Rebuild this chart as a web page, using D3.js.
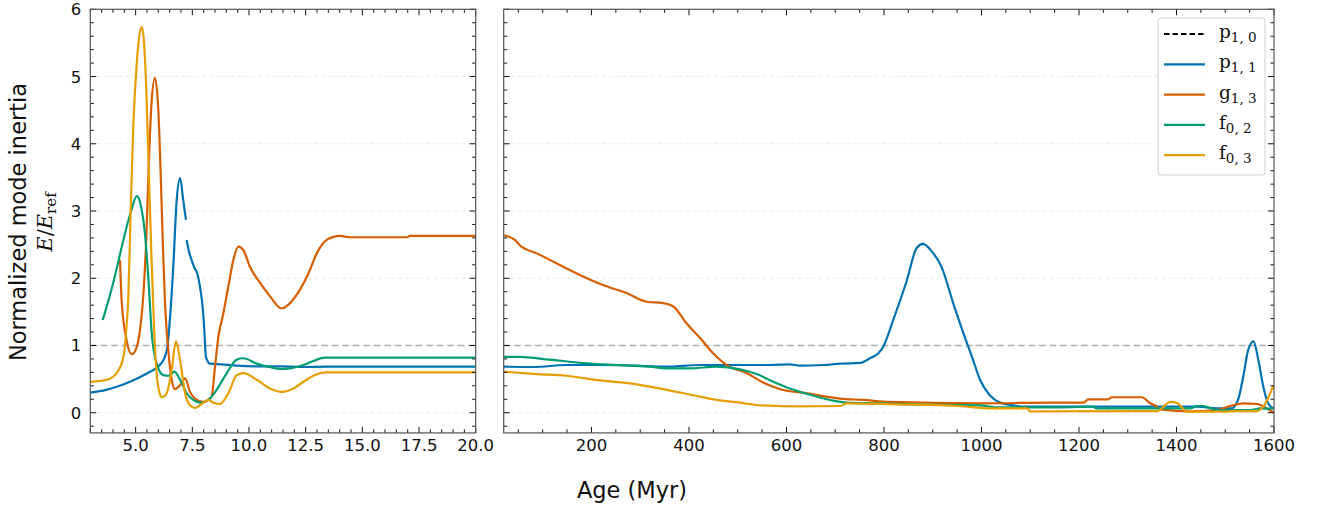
<!DOCTYPE html>
<html><head><meta charset="utf-8">
<script src="https://cdn.jsdelivr.net/npm/d3@7"></script>
<style>body{margin:0;background:#fff}svg{display:block}</style>
</head><body>
<svg id="chart" width="1319" height="508"></svg>
<script>
// ---------- DATA ----------
const seriesNames = ["p10", "p11", "g13", "f02", "f03"];
const seriesColors = {p10:"#000000", p11:"#0173b2", g13:"#d55e00", f02:"#029e73", f03:"#e69f00"};
const yTicks = [0,1,2,3,4,5,6];
const xTicksLeft = [5,7.5,10,12.5,15,17.5,20];
const xTicksRight = [200,400,600,800,1000,1200,1400,1600];

// left panel (age 3-20 Myr)
const p11Left = [[3.0,0.30],[3.7,0.34],[4.3,0.40],[4.75,0.46],[5.2,0.53],[5.63,0.61],[6.07,0.71],[6.25,0.80],[6.4,0.98],[6.52,1.43],[6.66,2.17],[6.81,3.16],[6.96,3.49],[7.1,3.16],[7.22,2.87],[7.235,null],[7.25,2.57],[7.35,2.40],[7.47,2.27],[7.6,2.15],[7.69,2.10],[7.84,1.87],[7.98,1.48],[8.05,1.10],[8.1,0.83],[8.28,0.73],[8.8,0.72],[9.46,0.70],[10.5,0.69],[11.5,0.69],[12.25,0.68],[13.5,0.685],[20,0.685]];
const g13Left = [[4.31,2.27],[4.38,1.68],[4.6,1.08],[4.83,0.87],[5.05,0.98],[5.2,1.25],[5.34,1.75],[5.47,2.6],[5.58,3.7],[5.7,4.6],[5.85,4.98],[6.0,4.5],[6.1,3.6],[6.2,2.5],[6.3,1.6],[6.44,0.93],[6.59,0.49],[6.74,0.35],[6.96,0.41],[7.18,0.51],[7.4,0.31],[7.62,0.21],[7.98,0.16],[8.35,0.24],[8.5,0.68],[8.65,1.13],[8.87,1.48],[9.09,1.88],[9.31,2.27],[9.53,2.47],[9.75,2.42],[10.04,2.17],[10.49,1.93],[10.93,1.73],[11.44,1.55],[11.81,1.63],[12.25,1.83],[12.62,2.07],[12.99,2.37],[13.43,2.57],[14.01,2.63],[14.46,2.61],[16.96,2.61],[17.1,2.63],[20,2.63]];
const f02Left = [[3.55,1.38],[4.01,1.93],[4.46,2.57],[4.8,3.0],[5.05,3.22],[5.25,3.05],[5.4,2.7],[5.56,2.0],[5.71,1.18],[5.93,0.73],[6.22,0.56],[6.45,0.55],[6.71,0.61],[6.96,0.49],[7.25,0.29],[7.54,0.19],[7.84,0.15],[8.2,0.19],[8.57,0.34],[9.02,0.59],[9.46,0.79],[9.75,0.81],[10.34,0.73],[10.9,0.68],[11.37,0.65],[11.81,0.66],[12.4,0.71],[12.84,0.77],[13.35,0.82],[20,0.82]];
const f03Left = [[3.0,0.46],[3.72,0.49],[4.16,0.59],[4.46,0.83],[4.58,1.2],[4.68,1.75],[4.78,3.0],[4.9,4.3],[5.05,5.2],[5.17,5.62],[5.27,5.74],[5.37,5.5],[5.47,4.8],[5.58,3.6],[5.7,2.3],[5.82,1.2],[5.95,0.5],[6.05,0.3],[6.15,0.23],[6.37,0.29],[6.59,0.64],[6.78,1.06],[6.96,0.78],[7.18,0.29],[7.4,0.11],[7.62,0.07],[7.91,0.13],[8.2,0.19],[8.42,0.15],[8.72,0.13],[9.09,0.29],[9.46,0.56],[9.75,0.59],[10.34,0.49],[10.93,0.36],[11.44,0.31],[11.96,0.36],[12.4,0.46],[12.84,0.55],[13.43,0.60],[20,0.60]];

// right panel (age 20-1600 Myr)
const p11Right = [[20,0.685],[81,0.68],[149,0.71],[218,0.71],[286,0.70],[354,0.685],[423,0.71],[491,0.71],[560,0.71],[607,0.72],[628,0.70],[676,0.71],[710,0.73],[751,0.74],[771,0.81],[788,0.88],[799,0.99],[819,1.38],[847,1.97],[867,2.45],[880,2.51],[898,2.40],[918,2.17],[942,1.63],[963,1.18],[983,0.78],[997,0.49],[1017,0.26],[1038,0.15],[1065,0.11],[1090,0.09],[1300,0.09],[1442,0.09],[1483,0.065],[1513,0.065],[1527,0.21],[1537,0.54],[1547,0.93],[1558,1.06],[1568,0.78],[1578,0.39],[1588,0.14],[1599,0.065]];
const g13Right = [[20,2.64],[43,2.57],[53,2.49],[88,2.37],[129,2.22],[176,2.05],[231,1.88],[272,1.78],[313,1.65],[347,1.63],[368,1.58],[395,1.33],[423,1.11],[450,0.88],[477,0.71],[518,0.59],[552,0.45],[587,0.35],[642,0.29],[710,0.21],[758,0.19],[812,0.16],[997,0.14],[1141,0.15],[1209,0.15],[1219,0.20],[1260,0.20],[1267,0.23],[1329,0.23],[1346,0.14],[1360,0.09],[1366,0.05],[1428,0.02],[1483,0.04],[1510,0.10],[1537,0.14],[1565,0.13],[1585,0.065],[1599,0.0]];
const f02Right = [[20,0.83],[53,0.83],[114,0.79],[183,0.74],[252,0.71],[320,0.685],[354,0.66],[402,0.66],[457,0.685],[505,0.645],[539,0.575],[573,0.46],[607,0.36],[642,0.28],[689,0.19],[724,0.15],[792,0.14],[860,0.125],[997,0.11],[1031,0.08],[1161,0.08],[1229,0.09],[1236,0.065],[1428,0.065],[1442,0.10],[1455,0.10],[1469,0.065],[1483,0.04],[1551,0.04],[1572,0.065],[1599,0.06]];
const f03Right = [[20,0.61],[88,0.575],[149,0.55],[218,0.48],[286,0.43],[354,0.34],[409,0.26],[457,0.19],[505,0.15],[546,0.11],[628,0.095],[710,0.10],[724,0.14],[826,0.125],[952,0.10],[1020,0.065],[1094,0.065],[1100,0.02],[1360,0.025],[1388,0.16],[1402,0.14],[1422,0.015],[1496,0.015],[1523,0.025],[1565,0.025],[1578,0.09],[1599,0.41]];

const refLevel = 1;
const legendLabels = [["p","1, 0"],["p","1, 1"],["g","1, 3"],["f","0, 2"],["f","0, 3"]];

// ---------- LAYOUT ----------
const svg = d3.select("#chart");
const yTop = 9.3, yBot = 432.9;
const yDomain = [-0.3, 6];
const y = d3.scaleLinear().domain(yDomain).range([yBot, yTop]);
const xL = d3.scaleLinear().domain([3,20]).range([90.3,475.7]);
const xR = d3.scaleLinear().domain([20,1600]).range([503.7,1274]);

const panels = [
  {x:xL, ticks:xTicksLeft, minor:d3.range(3,20.01,0.5), fmt:d3.format(".1f"), showY:true,
   series:{p11:p11Left,g13:g13Left,f02:f02Left,f03:f03Left}},
  {x:xR, ticks:xTicksRight, minor:d3.range(50,1600.1,50), fmt:d3.format("d"), showY:false,
   series:{p11:p11Right,g13:g13Right,f02:f02Right,f03:f03Right}}
];
const yMinor = d3.range(-0.2,6.01,0.2).map(v=>+v.toFixed(2));
const font = "DejaVu Sans, sans-serif";

panels.forEach((p,i)=>{
  const x = p.x;
  const [x0,x1] = x.range();
  const g = svg.append("g");
  const cid = "clip"+i;
  svg.append("clipPath").attr("id",cid).append("rect").attr("x",x0).attr("y",yTop).attr("width",x1-x0).attr("height",yBot-yTop);
  // gridlines
  g.selectAll(".grid").data(yTicks).join("line")
    .attr("x1",x0).attr("x2",x1).attr("y1",d=>y(d)).attr("y2",d=>y(d))
    .attr("stroke","#e6e6e6").attr("stroke-width",0.8).attr("stroke-dasharray","4,3");
  // reference line (p1,0)
  g.append("line").attr("x1",x0).attr("x2",x1).attr("y1",y(refLevel)).attr("y2",y(refLevel))
    .attr("stroke","#adadad").attr("stroke-width",1.7).attr("stroke-dasharray","6.5,4");
  // series
  const line = d3.line().defined(d=>d[1]!=null).x(d=>x(d[0])).y(d=>y(d[1])).curve(d3.curveMonotoneX);
  const lg = g.append("g").attr("clip-path",`url(#${cid})`);
  ["p11","g13","f02","f03"].forEach(k=>{
    lg.append("path").attr("d",line(p.series[k])).attr("fill","none")
      .attr("stroke",seriesColors[k]).attr("stroke-width",2.2).attr("stroke-linejoin","round");
  });
  // ticks (inward, all sides)
  const tk = g.append("g").attr("stroke","#111").attr("stroke-width",1);
  p.ticks.forEach(v=>{
    tk.append("line").attr("x1",x(v)).attr("x2",x(v)).attr("y1",yBot).attr("y2",yBot-6);
    tk.append("line").attr("x1",x(v)).attr("x2",x(v)).attr("y1",yTop).attr("y2",yTop+6);
  });
  p.minor.forEach(v=>{
    if (p.ticks.some(t=>Math.abs(t-v)<1e-6)) return;
    tk.append("line").attr("x1",x(v)).attr("x2",x(v)).attr("y1",yBot).attr("y2",yBot-3.5);
    tk.append("line").attr("x1",x(v)).attr("x2",x(v)).attr("y1",yTop).attr("y2",yTop+3.5);
  });
  yTicks.forEach(v=>{
    tk.append("line").attr("x1",x0).attr("x2",x0+6).attr("y1",y(v)).attr("y2",y(v));
    tk.append("line").attr("x1",x1).attr("x2",x1-6).attr("y1",y(v)).attr("y2",y(v));
  });
  yMinor.forEach(v=>{
    if (yTicks.some(t=>Math.abs(t-v)<1e-6)) return;
    tk.append("line").attr("x1",x0).attr("x2",x0+3.5).attr("y1",y(v)).attr("y2",y(v));
    tk.append("line").attr("x1",x1).attr("x2",x1-3.5).attr("y1",y(v)).attr("y2",y(v));
  });
  // frame
  g.append("rect").attr("x",x0).attr("y",yTop).attr("width",x1-x0).attr("height",yBot-yTop)
    .attr("fill","none").attr("stroke","#555").attr("stroke-width",1.2);
  // tick labels
  g.selectAll(".xl").data(p.ticks).join("text")
    .attr("x",d=>x(d)).attr("y",yBot+18).attr("text-anchor","middle")
    .attr("font-family",font).attr("font-size",16.5).attr("fill","#111").text(d=>p.fmt(d));
  if (p.showY){
    g.selectAll(".yl").data(yTicks).join("text")
      .attr("x",x0-9).attr("y",d=>y(d)+6).attr("text-anchor","end")
      .attr("font-family",font).attr("font-size",16.5).attr("fill","#111").text(d=>d);
  }
});

// axis titles
svg.append("text").attr("x",632).attr("y",498).attr("text-anchor","middle")
  .attr("font-family",font).attr("font-size",22.5).attr("fill","#111").text("Age (Myr)");
svg.append("text").attr("transform","translate(26,222) rotate(-90)").attr("text-anchor","middle")
  .attr("font-family",font).attr("font-size",22.5).attr("fill","#111").text("Normalized mode inertia");
const yl2 = svg.append("text").attr("transform","translate(52,222) rotate(-90)").attr("text-anchor","middle")
  .attr("font-family","DejaVu Serif, serif").attr("font-size",21).attr("fill","#111");
yl2.append("tspan").attr("font-style","italic").text("E");
yl2.append("tspan").text("/");
yl2.append("tspan").attr("font-style","italic").text("E");
yl2.append("tspan").attr("font-size",15).attr("dy",4).text("ref");

// legend
const lgX = 1158, lgY = 18;
const leg = svg.append("g");
leg.append("rect").attr("x",lgX).attr("y",lgY).attr("width",107).attr("height",157).attr("rx",3)
  .attr("fill","#fff").attr("fill-opacity",0.85).attr("stroke","#d0d0d0").attr("stroke-width",1);
seriesNames.forEach((k,i)=>{
  const yy = 34 + i*30.3;
  leg.append("line").attr("x1",1164).attr("x2",1205).attr("y1",yy).attr("y2",yy)
    .attr("stroke",seriesColors[k]).attr("stroke-width",2.2)
    .attr("stroke-dasharray",k==="p10"?"5.5,3":null);
  const t = leg.append("text").attr("x",1219).attr("y",yy+4).attr("font-family","DejaVu Serif, serif")
    .attr("font-size",18.5).attr("fill","#111");
  t.append("tspan").text(legendLabels[i][0]);
  t.append("tspan").attr("font-size",13.5).attr("dy",4).text(legendLabels[i][1]);
});
</script>
</body></html>
